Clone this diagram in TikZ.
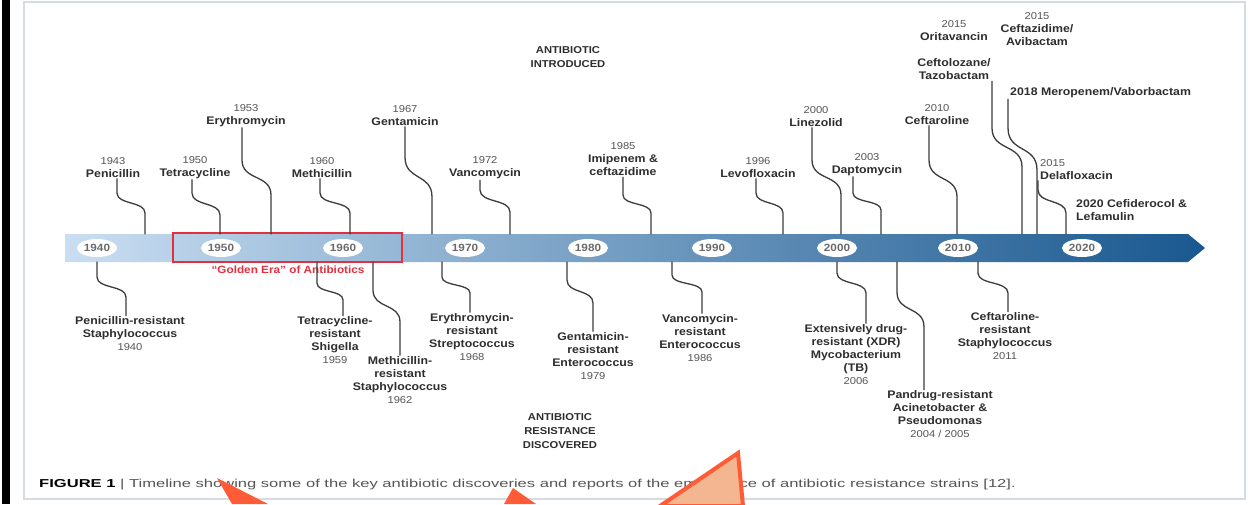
\documentclass[tikz,border=0pt]{standalone}
\usepackage{fontspec}
\setmainfont{Liberation Sans}[FakeStretch=1.12]
\newfontfamily\capfont{Liberation Sans}[FakeStretch=1.44]
\usetikzlibrary{shapes.geometric}
\definecolor{barL}{HTML}{C9DEF2}
\definecolor{barM}{HTML}{8EB2D9}
\definecolor{barR}{HTML}{19588F}
\definecolor{txt}{HTML}{2E2E2E}
\definecolor{yrc}{HTML}{555555}
\definecolor{conc}{HTML}{3C3C3C}
\definecolor{golden}{HTML}{E2303F}
\definecolor{framec}{HTML}{D6DCE0}
\definecolor{orangeA}{HTML}{FF5B37}
\definecolor{peach}{HTML}{F4B690}
\definecolor{ellc}{HTML}{6A6A6A}
\newcommand\yr[1]{{\mdseries\color{yrc}\fontsize{10}{13}\selectfont #1}}
% connector above the bar: node, x at label, y start of bend, x at bar, y end of bend
\newcommand\uptie[5]{%
  \coordinate (#1-b) at (#4,234);
  \draw[conn] (#1.south -| #2,0) -- (#2,#3) .. controls (#2,{#3+0.6*(#5-#3)}) and (#4,{#5-0.6*(#5-#3)}) .. (#4,#5) -- (#1-b);}
% connector below the bar: node, x at bar, y start of bend, x at label, y end of bend
\newcommand\dntie[5]{%
  \coordinate (#1-b) at (#2,262);
  \draw[conn] (#1-b) -- (#2,#3) .. controls (#2,{#3+0.6*(#5-#3)}) and (#4,{#5-0.6*(#5-#3)}) .. (#4,#5) -- (#1.north -| #4,0);}
\begin{document}
\begin{tikzpicture}[x=1pt,y=-1pt,
  lab/.style={align=center, inner sep=1pt, text=txt, font=\fontsize{11}{13}\selectfont\bfseries},
  labl/.style={lab, align=left},
  head/.style={align=center, inner sep=1pt, text=txt, font=\fontsize{10}{14}\selectfont\bfseries},
  yrlab/.style={ellipse, fill=white, inner sep=0.5pt, minimum width=40, minimum height=18, text=ellc, font=\fontsize{10.5}{12}\selectfont\bfseries},
  conn/.style={draw=conc, line width=1.3pt, line cap=round}]
\useasboundingbox (0,0) rectangle (1248,504);
\fill[white] (0,0) rectangle (1248,504);
\fill[black] (2,0) rectangle (10,504);
\draw[framec, line width=2.5pt] (24,2) rectangle (1245,499);

% timeline bar
\shade[left color=barL, middle color=barM, right color=barR]
  (65,234) -- (1188,234) -- (1205,248) -- (1188,262) -- (65,262) -- cycle;
\foreach \yy/\xx in {1940/97,1950/221,1960/343,1970/465,1980/588,1990/712,2000/837,2010/958,2020/1082}
  \node[yrlab] (y\yy) at (\xx,248) {\yy};
\draw[golden, line width=2pt] (173,233) rectangle (402,262);
\node[text=golden, inner sep=1pt, font=\fontsize{10.5}{12}\selectfont\bfseries] (golden) at (288,270) {\char"201CGolden Era\char"201D{} of Antibiotics};

% headings
\node[head] (intro) at (568,57) {ANTIBIOTIC\\INTRODUCED};
\node[head] (disc) at (560,431) {ANTIBIOTIC\\RESISTANCE\\DISCOVERED};

% discoveries (above)
\node[lab] (pen) at (113,167.5) {\yr{1943}\\Penicillin};
\node[lab] (tet) at (195,167.5) {\yr{1950}\\Tetracycline};
\node[lab] (ery) at (246,115.5) {\yr{1953}\\Erythromycin};
\node[lab] (meth) at (322,167.5) {\yr{1960}\\Methicillin};
\node[lab] (gen) at (405,115.5) {\yr{1967}\\Gentamicin};
\node[lab] (van) at (485,168) {\yr{1972}\\Vancomycin};
\node[lab] (imi) at (623,159.5) {\yr{1985}\\Imipenem \&\\ceftazidime};
\node[lab] (levo) at (758,167.5) {\yr{1996}\\Levofloxacin};
\node[lab] (lin) at (816,116.5) {\yr{2000}\\Linezolid};
\node[lab] (dap) at (867,164.5) {\yr{2003}\\Daptomycin};
\node[lab] (ctl) at (937,114.5) {\yr{2010}\\Ceftaroline};
\node[lab] (ori) at (954,31) {\yr{2015}\\Oritavancin};
\node[lab] (cza) at (1037,29.5) {\yr{2015}\\Ceftazidime/\\Avibactam};
\node[lab] (ctz) at (954,69.5) {Ceftolozane/\\Tazobactam};
\node[lab, anchor=west] (mer) at (1009,93) {2018 Meropenem/Vaborbactam};
\node[labl, anchor=west] (del) at (1039,169.5) {\yr{2015}\\Delafloxacin};
\node[labl, anchor=west] (cfd) at (1075,210) {2020 Cefiderocol \&\\Lefamulin};

\uptie{pen}{117}{193}{145}{213}
\uptie{tet}{192}{193}{220}{215}
\uptie{ery}{242}{160}{271}{195}
\uptie{meth}{320}{193}{350}{213}
\uptie{gen}{405}{157}{432}{197}
\uptie{van}{480}{190}{510}{212}
\uptie{imi}{623}{195}{651}{213}
\uptie{levo}{756}{193}{783}{213}
\uptie{lin}{812}{160}{841}{195}
\uptie{dap}{853}{193}{881}{210}
\uptie{ctl}{929}{160}{957}{197}
\uptie{ctz}{992}{128}{1022}{167}
\uptie{mer}{1008}{128}{1037}{170}
\uptie{del}{1038}{190}{1066}{213}

% resistance (below)
\node[lab] (penR) at (130,334) {Penicillin-resistant\\Staphylococcus\\\yr{1940}};
\node[lab] (tetR) at (335,340.5) {Tetracycline-\\resistant\\Shigella\\\yr{1959}};
\node[lab] (methR) at (400,380) {Methicillin-\\resistant\\Staphylococcus\\\yr{1962}};
\node[lab] (eryR) at (472,337) {Erythromycin-\\resistant\\Streptococcus\\\yr{1968}};
\node[lab] (genR) at (593,356) {Gentamicin-\\resistant\\Enterococcus\\\yr{1979}};
\node[lab] (vanR) at (700,338) {Vancomycin-\\resistant\\Enterococcus\\\yr{1986}};
\node[lab] (xdr) at (856,354.5) {Extensively drug-\\resistant (XDR)\\Mycobacterium\\(TB)\\\yr{2006}};
\node[lab] (pdr) at (940,414.5) {Pandrug-resistant\\Acinetobacter \&\\Pseudomonas\\\yr{2004 / 2005}};
\node[lab] (cptR) at (1005,336.5) {Ceftaroline-\\resistant\\Staphylococcus\\\yr{2011}};

\dntie{penR}{97}{277}{126}{297}
\dntie{tetR}{317}{283}{343}{300}
\dntie{methR}{373}{290}{400}{322}
\dntie{eryR}{442}{277}{470}{293}
\dntie{genR}{567}{280}{593}{303}
\dntie{vanR}{672}{275}{702}{292}
\dntie{xdr}{837}{273}{866}{293}
\dntie{pdr}{897}{292}{924}{327}
\dntie{cptR}{978}{273}{1008}{293}

% caption
\node[anchor=west, inner sep=0pt, text=yrc, font=\capfont\fontsize{11.5}{13}\selectfont] (cap) at (39,485)
  {{\color{black}\bfseries FIGURE 1} | Timeline showing some of the key antibiotic discoveries and reports of the emergence of antibiotic resistance strains [12].};

% orange overlay arrows
\fill[orangeA] (217,478) -- (268,504) -- (232,504) -- cycle;
\fill[orangeA] (513,488) -- (536,504) -- (504,504) -- cycle;
\filldraw[fill=peach, draw=orangeA, line width=4pt, line join=miter] (738,453) -- (743,506) -- (660,506) -- cycle;
\end{tikzpicture}
\end{document}
